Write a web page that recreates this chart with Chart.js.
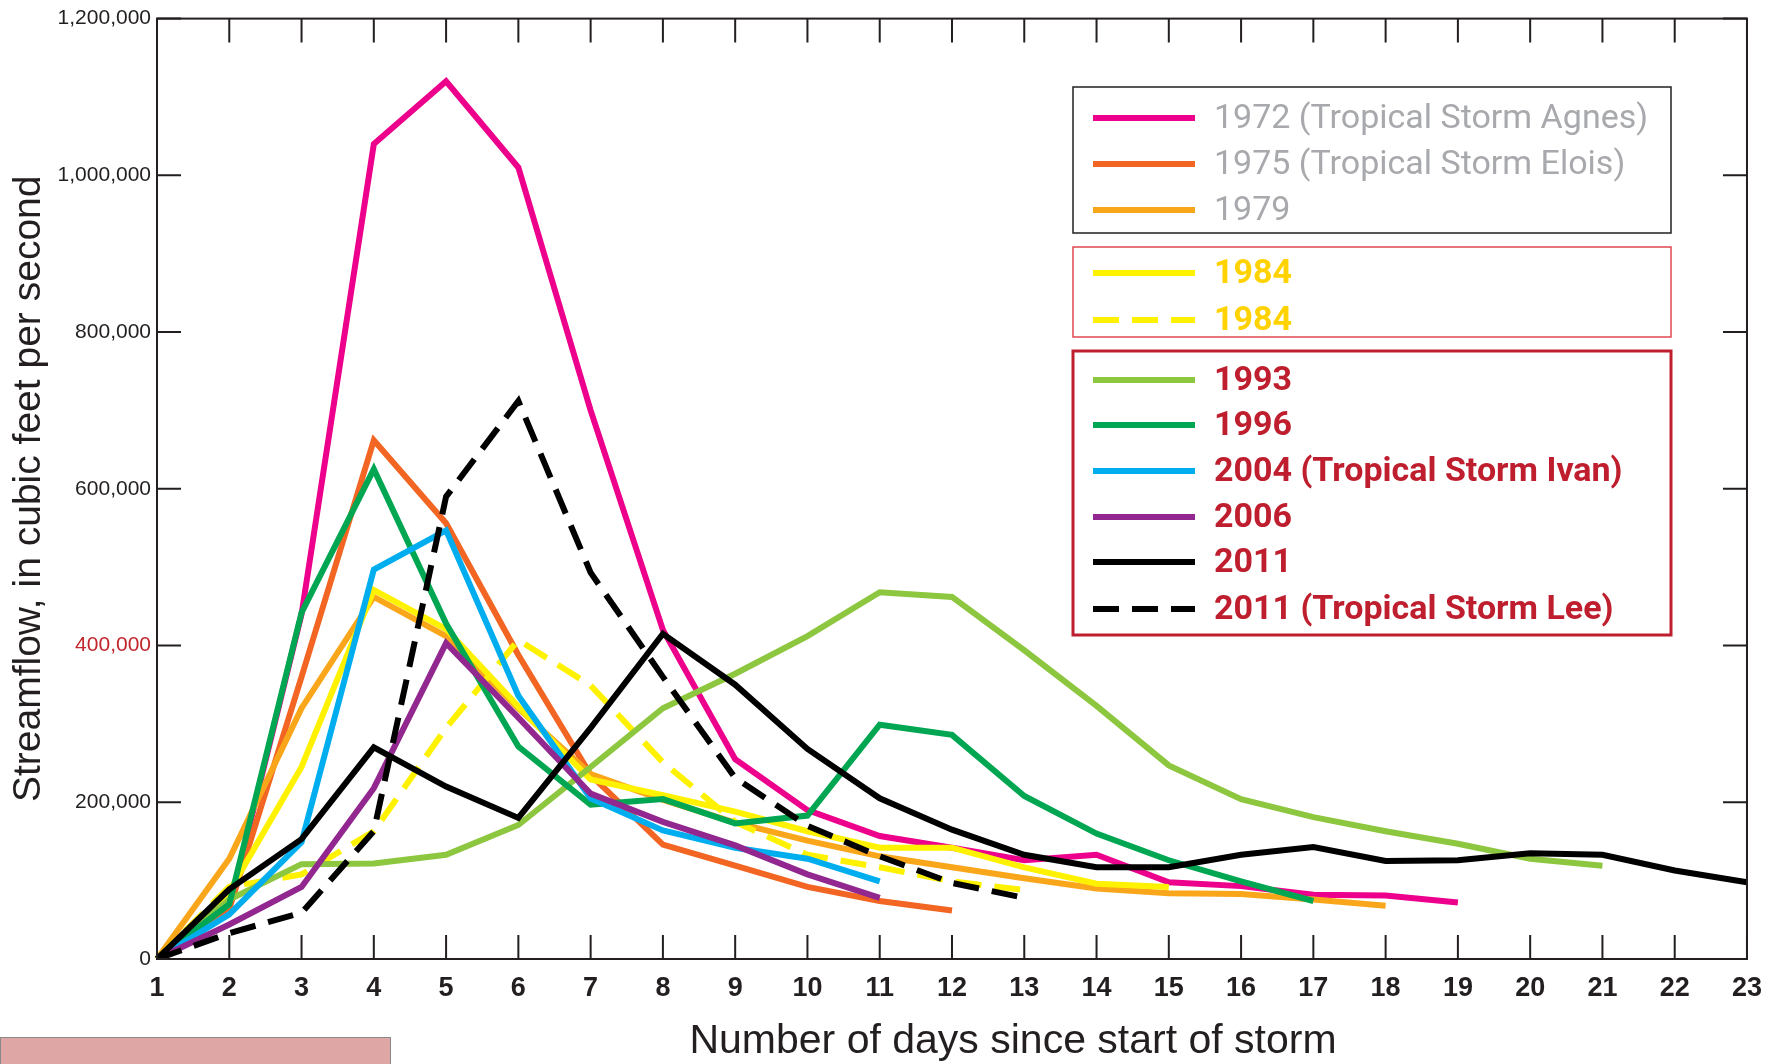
<!DOCTYPE html>
<html>
<head>
<meta charset="utf-8">
<script src="https://cdn.jsdelivr.net/npm/chart.js@4.4.1/dist/chart.umd.min.js"></script>
<style>
  body { margin: 0; background: #fff; }
  #wrap { position: relative; width: 1775px; height: 1064px; overflow: hidden; }
  #flowChart { position: absolute; left: 0; top: 0; }
  .tab { position: absolute; left: 0; top: 1037px; width: 391px; height: 30px;
         background: #dea6a5; border: 1px solid #8a8a8a; box-sizing: border-box; }
</style>
</head>
<body>
<div id="wrap">
  <canvas id="flowChart" width="1775" height="1064"></canvas>
  <div class="tab"></div>
</div>
<script>
// days since start of storm
const days = [1, 2, 3, 4, 5, 6, 7, 8, 9, 10, 11, 12, 13, 14, 15, 16, 17, 18, 19, 20, 21, 22, 23];
const yTicks = [0, 200000, 400000, 600000, 800000, 1000000, 1200000];

// streamflow, cubic feet per second
const agnes1972 = [0, 65000, 440000, 1040000, 1120000, 1010000, 700000, 420000, 255000, 190000, 157000, 142000, 126000, 133000, 98000, 93000, 82000, 81000, 72000];
const eloise1975 = [0, 64000, 360000, 662000, 556000, 388000, 235000, 146000, 119000, 92000, 74000, 62000];
const flow1979 = [0, 128000, 320000, 462000, 412000, 320000, 236000, 203000, 174000, 151000, 131000, 117000, 103000, 90000, 84000, 83000, 76000, 68000];
const flow1984 = [0, 86000, 245000, 471000, 421000, 322000, 229000, 209000, 188000, 163000, 142000, 142000, 117000, 96000, 92000];
const flow1984b = [0, 92000, 108000, 163000, 295000, 407000, 349000, 251000, 175000, 133000, 117000, 99000, 88000];
const flow1993 = [0, 76000, 121000, 122000, 133000, 171000, 245000, 320000, 364000, 412000, 468000, 462000, 394000, 323000, 247000, 204000, 181000, 163000, 147000, 128000, 119000];
const flow1996 = [0, 70000, 442000, 625000, 428000, 271000, 197000, 204000, 173000, 183000, 299000, 286000, 208000, 160000, 126000, 99000, 74000];
const ivan2004 = [0, 57000, 149000, 497000, 547000, 336000, 205000, 164000, 142000, 128000, 99000];
const flow2006 = [0, 44000, 92000, 218000, 403000, 308000, 211000, 175000, 145000, 108000, 78000];
const flow2011 = [0, 89000, 153000, 270000, 220000, 180000, 295000, 415000, 350000, 268000, 205000, 165000, 133000, 117000, 117000, 133000, 143000, 125000, 126000, 135000, 133000, 113000, 98000];
const lee2011 = [0, 33000, 59000, 163000, 590000, 712000, 493000, 360000, 231000, 170000, 131000, 97000, 78000];

const seriesLabels = [
    '1972 (Tropical Storm Agnes)', '1975 (Tropical Storm Elois)', '1979',
    '1984', '1984',
    '1993', '1996', '2004 (Tropical Storm Ivan)', '2006', '2011', '2011 (Tropical Storm Lee)'
];
const seriesData = [agnes1972, eloise1975, flow1979, flow1984, flow1984b, flow1993, flow1996, ivan2004, flow2006, flow2011, lee2011];
const seriesColors = ['#ec008c', '#f26522', '#faa61a', '#fff200', '#fff200', '#8dc63f', '#00a651', '#00aeef', '#92278f', '#000000', '#000000'];
const dashed = [false, false, false, false, true, false, false, false, false, false, true];

const TICK = 24;
const AXIS = '#231f20';

// legend boxes: which series go in which box
const legendGroups = [
    { rows: [0, 1, 2], box: [1073, 87, 1671, 233], border: AXIS, bw: 1.5, color: '#a7a9ac', weight: 'normal' },
    { rows: [3, 4], box: [1073, 247, 1671, 337], border: '#e0474c', bw: 1.5, color: '#ffd200', weight: 'bold' },
    { rows: [5, 6, 7, 8, 9, 10], box: [1073, 351, 1671, 635], border: '#be1e2d', bw: 3, color: '#be1e2d', weight: 'bold' }
];
const rowY = [118, 164, 210, 273, 320, 380, 425, 471, 517, 562, 609];

const frameTicks = {
    id: 'frameTicks',
    afterDatasetsDraw(chart) {
        const { ctx, chartArea: a, scales: { x, y } } = chart;
        ctx.save();
        ctx.strokeStyle = AXIS;
        ctx.lineWidth = 2;
        ctx.strokeRect(a.left, a.top, a.right - a.left, a.bottom - a.top);
        ctx.beginPath();
        x.ticks.forEach((t, i) => {
            const px = x.getPixelForTick(i);
            ctx.moveTo(px, a.bottom); ctx.lineTo(px, a.bottom - TICK);
            ctx.moveTo(px, a.top); ctx.lineTo(px, a.top + TICK);
        });
        y.ticks.forEach((t, i) => {
            const py = y.getPixelForTick(i);
            ctx.moveTo(a.left, py); ctx.lineTo(a.left + TICK, py);
            ctx.moveTo(a.right, py); ctx.lineTo(a.right - TICK, py);
        });
        ctx.stroke();

        // x axis title, set a little right of centre as in the original
        ctx.fillStyle = AXIS;
        ctx.font = '41px "Liberation Sans", Arial, sans-serif';
        ctx.textAlign = 'center';
        ctx.textBaseline = 'middle';
        ctx.fillText('Number of days since start of storm', 1013, 1042);
        ctx.restore();
    }
};

const boxedLegend = {
    id: 'boxedLegend',
    afterDraw(chart) {
        const ctx = chart.ctx;
        ctx.save();
        legendGroups.forEach(g => {
            const [x0, y0, x1, y1] = g.box;
            ctx.fillStyle = '#fff';
            ctx.fillRect(x0, y0, x1 - x0, y1 - y0);
            ctx.strokeStyle = g.border;
            ctx.lineWidth = g.bw;
            ctx.strokeRect(x0, y0, x1 - x0, y1 - y0);
            g.rows.forEach(i => {
                const ds = chart.data.datasets[i];
                const yy = rowY[i];
                ctx.beginPath();
                ctx.strokeStyle = ds.borderColor;
                ctx.lineWidth = 6;
                ctx.setLineDash(ds.borderDash || []);
                ctx.moveTo(1093, yy);
                ctx.lineTo(1195, yy);
                ctx.stroke();
                ctx.setLineDash([]);
                ctx.fillStyle = g.color;
                ctx.font = g.weight + ' 34px Roboto';
                ctx.textBaseline = 'middle';
                ctx.fillText(ds.label, 1214, yy + 1);
            });
        });
        ctx.restore();
    }
};

new Chart(document.getElementById('flowChart'), {
    type: 'line',
    data: {
        labels: days,
        datasets: seriesData.map((d, i) => ({
            label: seriesLabels[i],
            data: d,
            borderColor: seriesColors[i],
            borderWidth: 6,
            borderDash: dashed[i] ? [26, 13] : [],
            pointRadius: 0,
            tension: 0,
            fill: false,
            order: 20 - i
        }))
    },
    options: {
        responsive: false,
        animation: false,
        devicePixelRatio: 1,
        layout: { padding: { left: 0, right: 21, top: 15, bottom: 0 } },
        plugins: { legend: { display: false }, tooltip: { enabled: false } },
        scales: {
            x: {
                grid: { display: false, drawTicks: false },
                border: { display: false },
                ticks: {
                    color: AXIS,
                    padding: 13,
                    maxRotation: 0,
                    autoSkip: false,
                    font: { family: '"Liberation Sans", Arial, sans-serif', weight: 'bold', size: 27 }
                },
                title: { display: false },
                afterFit(s) { s.height = 105; }
            },
            y: {
                min: 0,
                max: 1200000,
                afterBuildTicks(s) { s.ticks = yTicks.map(v => ({ value: v })); },
                grid: { display: false, drawTicks: false },
                border: { display: false },
                ticks: {
                    padding: 6,
                    color: c => (c.tick && c.tick.value === 400000 ? '#c1272d' : AXIS),
                    font: { family: '"Liberation Sans", Arial, sans-serif', size: 21 },
                    callback: v => v.toLocaleString('en-US')
                },
                title: {
                    display: true,
                    text: 'Streamflow, in cubic feet per second',
                    color: AXIS,
                    padding: { top: 6, bottom: 0 },
                    font: { family: '"Liberation Sans", Arial, sans-serif', size: 39, lineHeight: 1.2 }
                },
                afterFit(s) { s.width = 157; }
            }
        }
    },
    plugins: [frameTicks, boxedLegend]
});
</script>
</body>
</html>
